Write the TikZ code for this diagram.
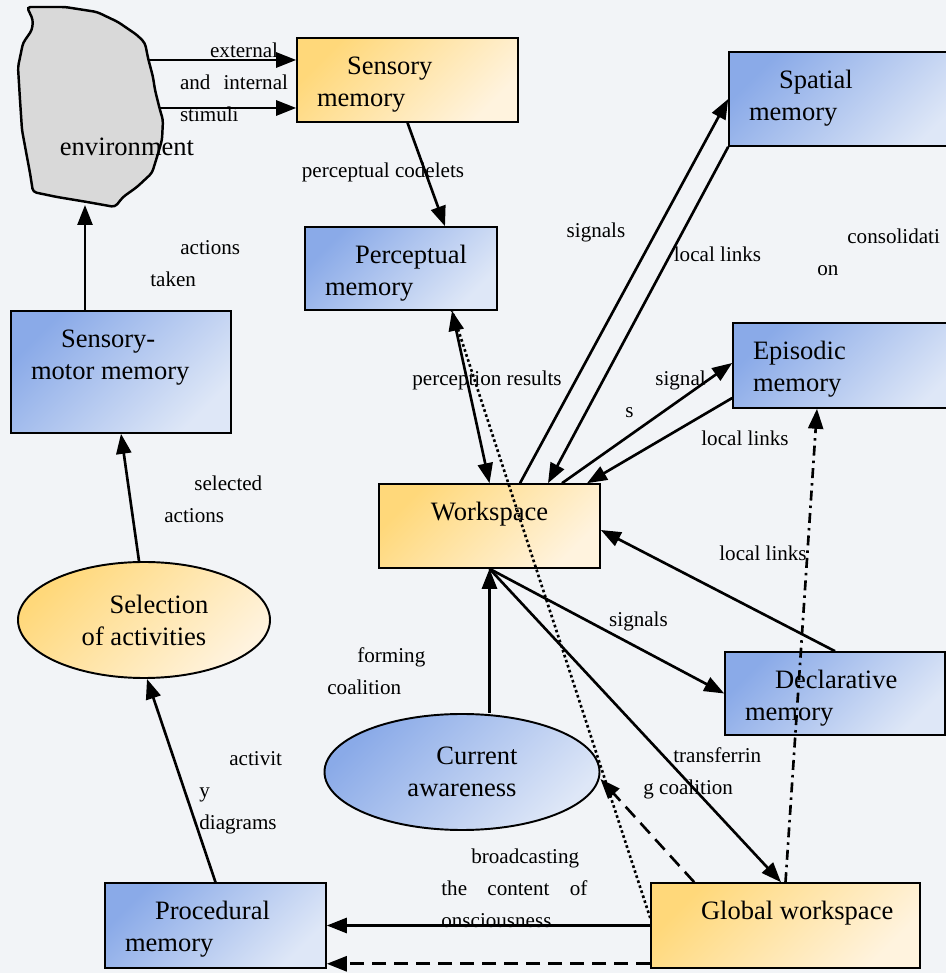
\documentclass[tikz,border=0pt]{standalone}
\usepackage{fontspec}
\setmainfont{Liberation Serif}
\usepackage{xcolor}
\usetikzlibrary{shapes.geometric,arrows.meta}

\definecolor{bgpaper}{RGB}{242,244,247}
\definecolor{envgray}{RGB}{217,217,217}
\definecolor{yellowdark}{RGB}{255,216,122}
\definecolor{yellowlight}{RGB}{255,243,222}
\definecolor{bluedark}{RGB}{138,170,232}
\definecolor{bluelight}{RGB}{222,231,247}

\begin{document}
\begin{tikzpicture}[
    boxfont/.style={font=\fontsize{15.1}{18.2}\selectfont},
    labelfont/.style={font=\fontsize{12}{18.2}\selectfont},
    membox/.style={rectangle, draw=black, line width=0.9pt, boxfont, align=flush left,
        inner xsep=0.4cm, inner ysep=0pt, text height=0.74cm, text depth=#1},
    memoval/.style={ellipse, draw=black, line width=1.1pt, boxfont, align=center, inner sep=0pt},
    yellowfill/.style={left color=yellowdark, right color=yellowlight, shading angle=45},
    bluefill/.style={left color=bluedark, right color=bluelight, shading angle=45},
    lbl/.style={labelfont, inner sep=0pt},
    link/.style={line width=1.5pt, -{Triangle[length=0.4cm,width=0.3cm]}},
]
    % Setup
    \useasboundingbox (0,0) rectangle (18.92,19.46);
    \fill[bgpaper] (0,0) rectangle (18.92,19.46);

    % Environment
    \draw[fill=envgray, line width=1.4pt, rounded corners=2pt]
        (0.54,19.32) -- (1.30,19.32) -- (1.94,19.22) -- (2.36,19.02) -- (2.74,18.76)
        -- (2.90,18.60) -- (2.96,18.30) -- (3.06,17.92) -- (3.10,17.66) -- (3.20,17.26)
        -- (3.26,17.06) -- (3.24,16.66) -- (3.14,16.32) -- (3.04,16.00) -- (2.74,15.72)
        -- (2.46,15.52) -- (2.30,15.32) -- (1.74,15.42) -- (1.14,15.52) -- (0.66,15.62)
        -- (0.60,16.00) -- (0.54,16.32) -- (0.44,16.86) -- (0.40,17.46) -- (0.36,18.12)
        -- (0.46,18.60) -- (0.64,18.86) -- (0.66,19.06) -- cycle;
    \node[boxfont] (envtext) at (2.54,16.52) {environment};
    \coordinate (envA) at (2.96,18.26);
    \coordinate (envB) at (3.20,17.30);
    \coordinate (envC) at (1.70,15.36);

    % Memory boxes (text depth = box height - 0.74cm)
    \node[membox=0.94cm, yellowfill, text width=3.62cm] (sens) at (8.15,17.86) {\hspace*{0.6cm}Sensory\\memory};
    \node[membox=0.92cm, bluefill, text width=3.04cm] (perc) at (8.02,14.09) {\hspace*{0.6cm}Perceptual\\memory};
    \node[membox=1.14cm, bluefill, text width=3.92cm] (spat) at (16.94,17.48) {\hspace*{0.6cm}Spatial\\memory};
    \node[membox=0.96cm, bluefill, text width=3.84cm] (epi) at (16.98,12.15) {Episodic\\memory};
    \node[membox=0.94cm, yellowfill, text width=3.62cm, align=center] (ws) at (9.79,8.94) {Workspace};
    \node[membox=1.70cm, bluefill, text width=3.60cm] (sm) at (2.42,12.02) {\hspace*{0.6cm}Sensory-\\motor memory};
    \node[membox=0.92cm, bluefill, text width=3.60cm] (decl) at (16.70,5.59) {\hspace*{0.6cm}Declarative\\memory};
    \node[membox=0.96cm, yellowfill, text width=4.58cm] (gw) at (15.71,0.95) {\hspace*{0.6cm}Global workspace};
    \node[membox=0.96cm, bluefill, text width=3.62cm] (proc) at (4.31,0.95) {\hspace*{0.6cm}Procedural\\memory};

    % Ellipses
    \node[memoval, yellowfill, minimum width=5.04cm, minimum height=2.32cm] (sel) at (2.88,7.06) {\hspace*{0.6cm}Selection\\of activities};
    \node[memoval, bluefill, minimum width=5.50cm, minimum height=2.32cm] (ca) at (9.24,4.02) {\hspace*{0.6cm}Current\\awareness};

    % Labels
    \node[lbl, text width=2.16cm, align=flush left] (stimuli) at (4.68,17.82) {\hfill external\kern0.2cm\\and\hfill internal\\stimuli};
    \node[lbl] (codelets) at (7.66,16.02) {perceptual codelets};
    \node[lbl, anchor=west, align=left] (taken) at (3.00,14.18) {\hspace*{0.6cm}actions\\taken};
    \node[lbl, anchor=west, align=left] (selact) at (3.28,9.48) {\hspace*{0.6cm}selected\\actions};
    \node[lbl] (sigspat) at (11.92,14.82) {signals};
    \node[lbl] (linkspat) at (14.35,14.38) {local links};
    \node[lbl, anchor=west, align=left] (consol) at (16.34,14.42) {\hspace*{0.6cm}consolidati\\on};
    \node[lbl] (percres) at (9.74,11.86) {perception results};
    \node[lbl, anchor=west, align=left] (sigepi) at (12.50,11.58) {\hspace*{0.6cm}signal\\s};
    \node[lbl] (linkepi) at (14.90,10.70) {local links};
    \node[lbl] (linkdecl) at (15.26,8.40) {local links};
    \node[lbl] (sigdecl) at (12.77,7.04) {signals};
    \node[lbl, anchor=west, align=left] (forming) at (6.54,6.04) {\hspace*{0.6cm}forming\\coalition};
    \node[lbl, anchor=west, align=left] (transfer) at (12.86,4.00) {\hspace*{0.6cm}transferrin\\g coalition};
    \node[lbl, anchor=west, align=left] (diagrams) at (3.98,3.60) {\hspace*{0.6cm}activit\\y\\diagrams};
    \node[lbl, anchor=west, align=flush left, text width=2.92cm] (broadcast) at (8.82,1.70) {\hspace*{0.6cm}broadcasting\\the\hfill content\hfill of\\onsciousness};

    % Connectors
    \draw[link] (envA) -- (envA -| sens.west);
    \draw[link] (envB) -- (envB -| sens.west);
    \draw[link] (sens.south) -- ([xshift=0.88cm]perc.north);
    \draw[link] (sm.north -| envC) -- (envC);
    \draw[link] ([xshift=-0.1cm]sel.north) -- (sm.south);
    \draw[link] (proc.north) -- ([xshift=0.06cm]sel.south);
    \draw[link, {Triangle[length=0.4cm,width=0.3cm]}-{Triangle[length=0.4cm,width=0.3cm]}] ([xshift=1.02cm]perc.south) -- (ws.north);
    \draw[link] ([xshift=0.61cm]ws.north) -- (spat.west);
    \draw[link] (spat.south west) -- ([xshift=1.17cm]ws.north);
    \draw[link] ([xshift=1.45cm]ws.north) -- ([yshift=0.05cm]epi.west);
    \draw[link] ([yshift=-0.65cm]epi.west) -- ([xshift=1.95cm]ws.north);
    \draw[link] (decl.north) -- ([yshift=-0.08cm]ws.east);
    \draw[link] (ws.south) -- (decl.west);
    \draw[link] (ws.south) -- ([xshift=-0.09cm]gw.north);
    \draw[link] (ca.north -| ws.south) -- (ws.south);
    \draw[link] (gw.west) -- (proc.east);
    \draw[link, dash pattern=on 0.28cm off 0.16cm] ([yshift=0.1cm]gw.south west) -- ([yshift=0.1cm]proc.south east);
    \draw[link, dash pattern=on 0.28cm off 0.16cm] ([xshift=0.88cm]gw.north west) -- ([yshift=-0.14cm]ca.east);
    \draw[line width=1.5pt, dash pattern=on 1.5pt off 1.5pt] ([yshift=0.15cm]gw.west) -- ([xshift=1.02cm]perc.south);
    \draw[link, dash pattern=on 0.2cm off 0.1cm on 0.05cm off 0.1cm] (gw.north) -- ([xshift=-0.64cm]epi.south);
\end{tikzpicture}
\end{document}
